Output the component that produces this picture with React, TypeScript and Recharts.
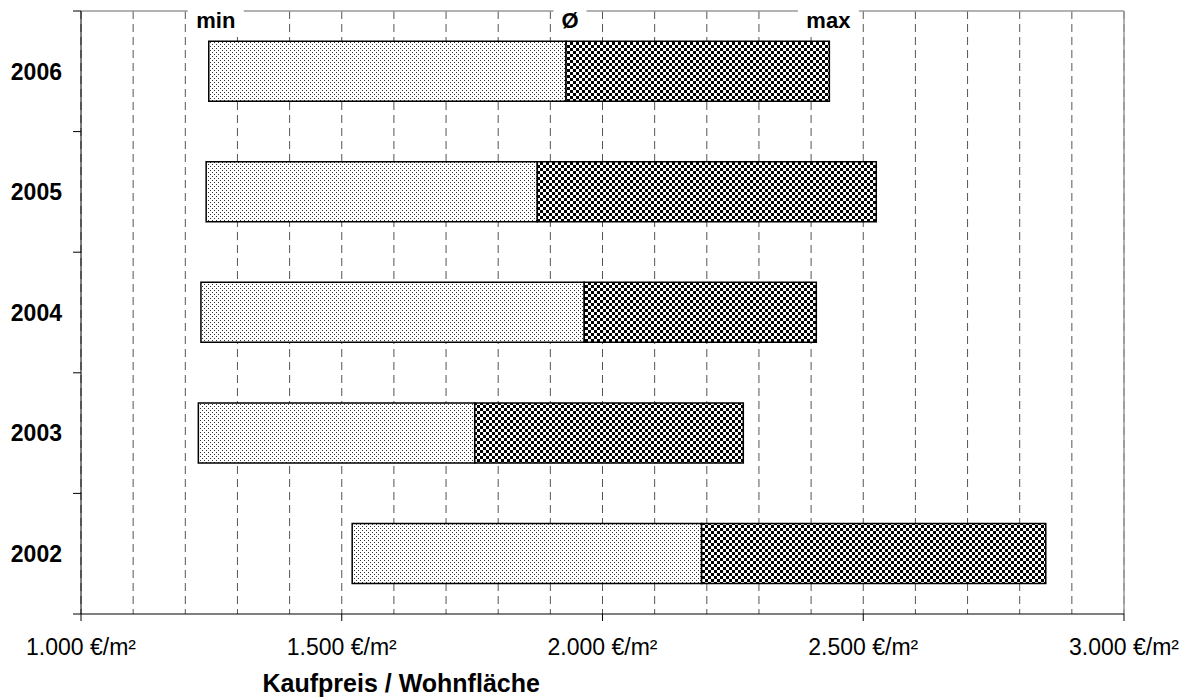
import React from "react";
import { Bar, BarChart, CartesianGrid, LabelList, XAxis, YAxis } from "recharts";

// Kaufpreis je m² Wohnfläche: Spanne min – Ø – max pro Jahr
const years = ["2006", "2005", "2004", "2003", "2002"];
const minPrices = [1245, 1240, 1230, 1225, 1520];
const avgPrices = [1930, 1875, 1965, 1755, 2190];
const maxPrices = [2435, 2525, 2410, 2270, 2850];

const xTicks = [1000, 1500, 2000, 2500, 3000];
const gridTicks = [
  1000, 1100, 1200, 1300, 1400, 1500, 1600, 1700, 1800, 1900, 2000,
  2100, 2200, 2300, 2400, 2500, 2600, 2700, 2800, 2900, 3000
];
const markerLabels = ["min", "Ø", "max"];

const data = years.map((year, i) => ({
  year,
  base: minPrices[i],
  lower: avgPrices[i] - minPrices[i],
  upper: maxPrices[i] - avgPrices[i]
}));

const FONT = '"Liberation Sans", Arial, Helvetica, sans-serif';

const formatPrice = (v: number) =>
  `${String(v).replace(/\B(?=(\d{3})+(?!\d))/g, ".")} €/m²`;

function YearTick(props: any) {
  const { x, y, payload, index, visibleTicksCount } = props;
  const half = typeof payload?.offset === "number" ? payload.offset : 60;
  return (
    <g>
      <line x1={x - 8} x2={x} y1={y - half} y2={y - half} stroke="#000" />
      {index === visibleTicksCount - 1 ? (
        <line x1={x - 8} x2={x} y1={y + half} y2={y + half} stroke="#000" />
      ) : null}
      <text
        x={x - 19}
        y={y}
        dy="0.36em"
        textAnchor="end"
        fontFamily={FONT}
        fontWeight="bold"
        fontSize={23}
        fill="#000"
      >
        {payload.value}
      </text>
    </g>
  );
}

// Beschriftung min / Ø / max über dem obersten Balken, weiß hinterlegt
function markerLabel(text: string, dx: number, boxW: number) {
  return (props: any) => {
    const { x, y, width, index } = props;
    if (index !== 0) return null;
    const cx = Number(x) + Number(width) + dx;
    return (
      <g>
        <rect x={cx - boxW / 2} y={Number(y) - 41} width={boxW} height={35} fill="#fff" />
        <text
          x={cx}
          y={Number(y) - 13}
          textAnchor="middle"
          fontFamily={FONT}
          fontWeight="bold"
          fontSize={22}
          fill="#000"
        >
          {text}
        </text>
      </g>
    );
  };
}

function AxisTitle(props: any) {
  const { viewBox } = props;
  const { x, y, width, height } = viewBox;
  return (
    <text
      x={x + width * 0.307}
      y={y + height - 5}
      textAnchor="middle"
      fontFamily={FONT}
      fontWeight="bold"
      fontSize={25}
      fill="#000"
    >
      Kaufpreis / Wohnfläche
    </text>
  );
}

export default function App() {
  return (
    <div style={{ position: "absolute", left: 0, top: 0 }}>
      <BarChart
        width={1192}
        height={697}
        data={data}
        layout="vertical"
        barCategoryGap="25%"
        margin={{ top: 10, right: 67, left: 0, bottom: 0 }}
      >
        <defs>
          <pattern id="dotsLight" width={4} height={4} patternUnits="userSpaceOnUse">
            <rect width={4} height={4} fill="#fff" />
            <rect x={0} y={0} width={1} height={1} fill="#333" />
            <rect x={2} y={2} width={1} height={1} fill="#333" />
          </pattern>
          <pattern id="dotsDark" width={6} height={6} patternUnits="userSpaceOnUse">
            <rect width={6} height={6} fill="#fff" />
            <rect x={0} y={0} width={3} height={3} fill="#000" />
            <rect x={3} y={3} width={3} height={3} fill="#000" />
          </pattern>
        </defs>
        <CartesianGrid
          xAxisId="minor"
          horizontal={false}
          stroke="#555"
          strokeDasharray="8 5"
        />
        <XAxis
          xAxisId="minor"
          type="number"
          domain={[1000, 3000]}
          ticks={gridTicks}
          allowDataOverflow
          hide
        />
        <XAxis
          xAxisId="top"
          orientation="top"
          type="number"
          domain={[1000, 3000]}
          allowDataOverflow
          height={1}
          tick={false}
          tickLine={false}
          axisLine={{ stroke: "#999", strokeWidth: 1.5 }}
        />
        <YAxis
          yAxisId="right"
          orientation="right"
          type="number"
          domain={[0, 1]}
          width={1}
          tick={false}
          tickLine={false}
          axisLine={{ stroke: "#999", strokeWidth: 1.5 }}
        />
        <XAxis
          type="number"
          domain={[1000, 3000]}
          allowDataOverflow
          ticks={xTicks}
          tickFormatter={formatPrice}
          tickSize={7}
          tickMargin={18}
          tick={{ fontSize: 23, fill: "#000", fontFamily: FONT }}
          tickLine={{ stroke: "#000" }}
          axisLine={{ stroke: "#000" }}
          height={83}
          label={<AxisTitle />}
        />
        <YAxis
          type="category"
          dataKey="year"
          width={81}
          tickSize={0}
          tickMargin={0}
          tickLine={false}
          axisLine={{ stroke: "#000" }}
          tick={<YearTick />}
        />
        <Bar dataKey="base" stackId="range" fill="transparent" isAnimationActive={false}>
          <LabelList dataKey="base" content={markerLabel(markerLabels[0], 7, 56)} />
        </Bar>
        <Bar
          dataKey="lower"
          stackId="range"
          fill="url(#dotsLight)"
          stroke="#000"
          strokeWidth={1.5}
          isAnimationActive={false}
        >
          <LabelList dataKey="lower" content={markerLabel(markerLabels[1], 4, 33)} />
        </Bar>
        <Bar
          dataKey="upper"
          stackId="range"
          fill="url(#dotsDark)"
          stroke="#000"
          strokeWidth={1.5}
          isAnimationActive={false}
        >
          <LabelList dataKey="upper" content={markerLabel(markerLabels[2], -1, 61)} />
        </Bar>
      </BarChart>
    </div>
  );
}
